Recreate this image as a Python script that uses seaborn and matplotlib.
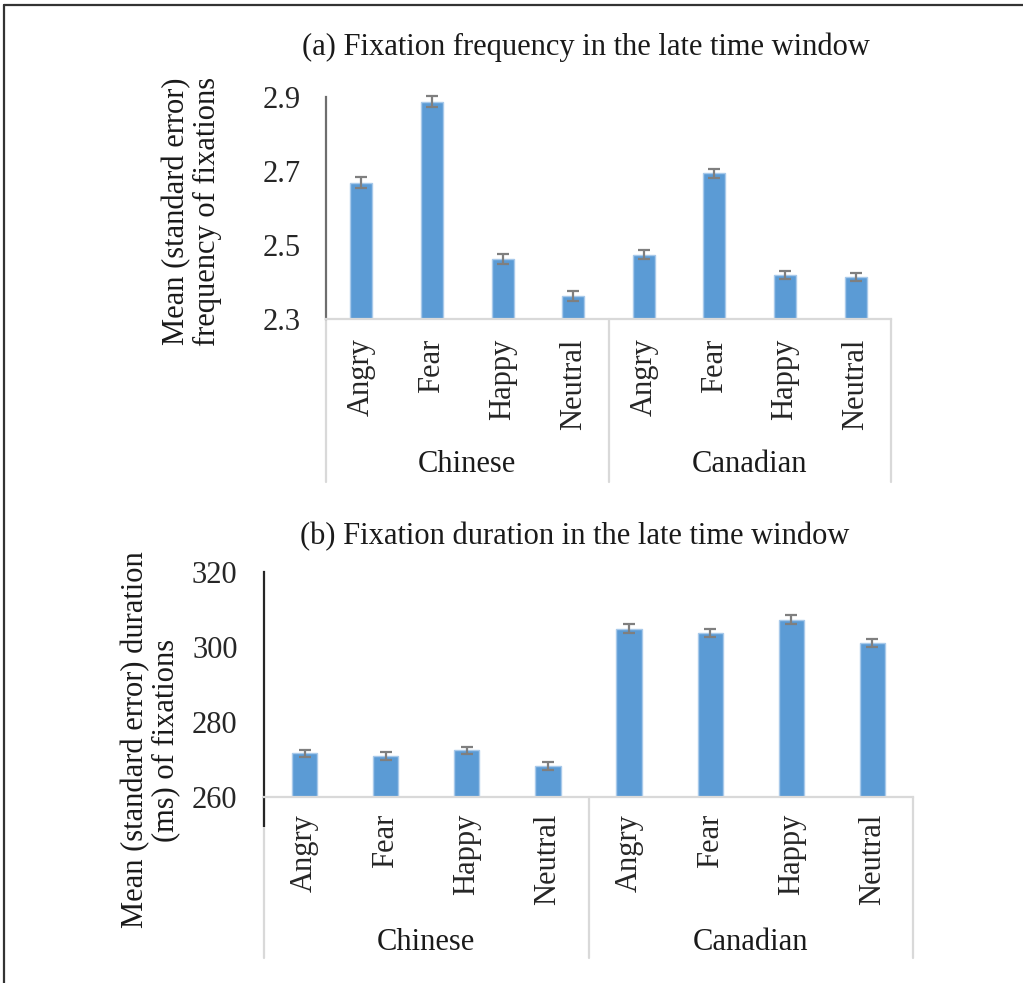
import matplotlib
matplotlib.use("Agg")
import matplotlib.pyplot as plt
import matplotlib.transforms as mtransforms
import seaborn as sns
import pandas as pd

# Data
groups = ["Chinese", "Canadian"]
emotions = ["Angry", "Fear", "Happy", "Neutral"]

freq_mean = [2.668, 2.887, 2.462, 2.362, 2.474, 2.694, 2.418, 2.414]
freq_se = [0.015, 0.015, 0.014, 0.014, 0.012, 0.012, 0.011, 0.011]
freq_ticks = [2.3, 2.5, 2.7, 2.9]

dur_mean = [271.6, 270.9, 272.4, 268.3, 304.9, 303.8, 307.3, 301.1]
dur_se = [1.0, 1.0, 1.0, 1.0, 1.1, 1.1, 1.1, 1.1]
dur_ticks = [260, 280, 300, 320]

sns.set_theme(style="white")
plt.rcParams["font.family"] = ["Liberation Serif", "DejaVu Serif"]
plt.rcParams["text.color"] = "#1a1a1a"

BAR = "#5B9BD5"
EDGE = "#a8c9ea"
ERR = "#7f7f7f"
CAT_LINE = "#d9d9d9"
FS = 22

fig = plt.figure(figsize=(10.23, 9.83), dpi=100)
W, H = 1023, 983


def fx(px):
    return px / W


def fy(py):
    return 1 - py / H


def panel(rect, means, ses, ticks, ylim, spine_color, label_pad, tick_pad,
          group_y, sep_bottom, spine_bottom=None):
    ax = fig.add_axes(rect)
    keys = [f"{g}-{e}" for g in groups for e in emotions]
    df = pd.DataFrame({"key": keys, "mean": means})
    sns.barplot(data=df, x="key", y="mean", order=keys, color=BAR,
                width=0.31, edgecolor=EDGE, linewidth=1.0, ax=ax,
                saturation=1)
    eb = ax.errorbar(range(len(keys)), means, yerr=ses, fmt="none", ecolor=ERR,
                     elinewidth=1.6, capsize=4.3, capthick=1.6, zorder=5)
    for art in eb.lines[1] + eb.lines[2]:
        art.set_clip_on(False)
    ax.set_xlim(-0.5, len(keys) - 0.5)
    ax.set_ylim(*ylim)
    ax.set_yticks(ticks)
    ax.set_yticklabels([f"{t:g}" if isinstance(t, float) else str(t) for t in ticks],
                       fontsize=FS)
    ax.set_xticks(range(len(keys)))
    ax.set_xticklabels(emotions * len(groups), rotation=90, fontsize=FS)
    ax.tick_params(axis="x", length=0, pad=label_pad)
    ax.tick_params(axis="y", length=0, pad=tick_pad)
    ax.set_xlabel("")
    ax.set_ylabel("")
    for s in ["top", "right"]:
        ax.spines[s].set_visible(False)
    ax.spines["left"].set_color(spine_color)
    ax.spines["left"].set_linewidth(1.6)
    ax.spines["bottom"].set_color(CAT_LINE)
    ax.spines["bottom"].set_linewidth(1.6)

    # group separators and labels below the category axis
    blend = mtransforms.blended_transform_factory(ax.transData, fig.transFigure)
    y_axis = rect[1]
    for xs in [-0.5, 3.5, 7.5]:
        ax.plot([xs, xs], [y_axis, sep_bottom], transform=blend, color=CAT_LINE,
                lw=1.6, clip_on=False, zorder=0)
    for i, g in enumerate(groups):
        ax.text(i * 4 + 1.5, group_y, g, transform=blend, ha="center",
                va="center", fontsize=FS)
    if spine_bottom is not None:
        b2 = mtransforms.blended_transform_factory(ax.transAxes, fig.transFigure)
        ax.plot([0, 0], [y_axis, spine_bottom], transform=b2, color=spine_color,
                lw=1.6, clip_on=False, solid_capstyle="butt")
    return ax


# (a) fixation frequency
ax1 = panel([fx(326), fy(319), fx(891) - fx(326), fy(97) - fy(319)],
            freq_mean, freq_se, freq_ticks, (2.3, 2.9), "#6e6e6e",
            label_pad=14, tick_pad=18, group_y=fy(465), sep_bottom=fy(482))

# (b) fixation duration
ax2 = panel([fx(264), fy(797), fx(913) - fx(264), fy(572) - fy(797)],
            dur_mean, dur_se, dur_ticks, (260, 320), "#262626",
            label_pad=12, tick_pad=19, group_y=fy(942), sep_bottom=fy(958),
            spine_bottom=fy(827))

fig.text(fx(586), fy(47), "(a) Fixation frequency in the late time window",
         ha="center", va="center", fontsize=FS)
fig.text(fx(575), fy(537), "(b) Fixation duration in the late time window",
         ha="center", va="center", fontsize=FS)
fig.text(fx(192), fy(211), "Mean (standard error)\nfrequency of fixations",
         rotation=90, ha="center", va="center", fontsize=FS, linespacing=1.05,
         multialignment="center")
fig.text(fx(151), fy(740), "Mean (standard error) duration\n(ms) of fixations",
         rotation=90, ha="center", va="center", fontsize=FS, linespacing=1.05,
         multialignment="center")

# outer frame (top and left edges)
fig.add_artist(plt.Line2D([fx(4), 1], [fy(5), fy(5)], color="#333333", lw=1.6))
fig.add_artist(plt.Line2D([fx(4), fx(4)], [fy(5), 0], color="#333333", lw=1.6))

fig.savefig("out.png", dpi=100)
